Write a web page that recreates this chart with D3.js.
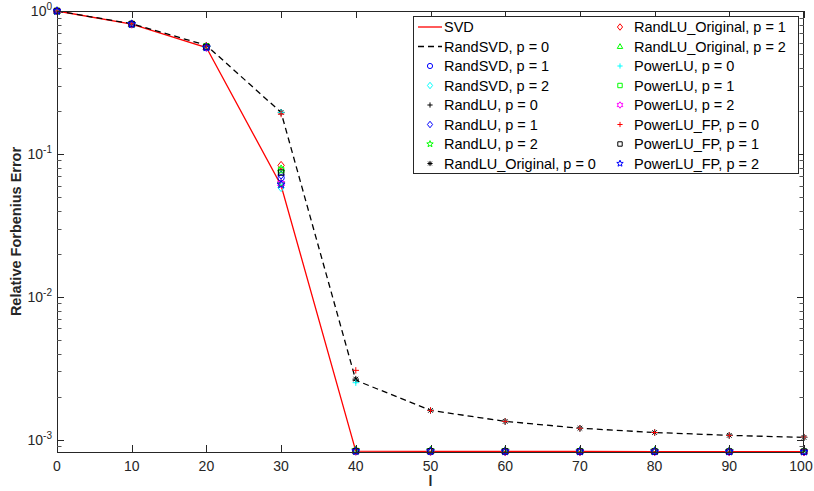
<!DOCTYPE html>
<html>
<head>
<meta charset="utf-8">
<script src="https://cdn.jsdelivr.net/npm/d3@7"></script>
<style>
  html, body { margin: 0; padding: 0; background: #fff; }
  svg { display: block; font-family: "Liberation Sans", Arial, Helvetica, sans-serif; }
</style>
</head>
<body>
<div id="chart"></div>
<script>
// Relative Frobenius error vs. rank l, log y axis (MATLAB-style figure)

var L = [0, 10, 20, 30, 40, 50, 60, 70, 80, 90, 100];

var SVD         = [1.0, 0.81, 0.555, 0.060, 8.3e-4, 8.27e-4, 8.26e-4, 8.25e-4, 8.24e-4, 8.23e-4, 8.22e-4];
var RANDSVD_0   = [1.0, 0.815, 0.575, 0.195, 2.6e-3, 1.6e-3, 1.34e-3, 1.2e-3, 1.12e-3, 1.07e-3, 1.035e-3];
var RANDSVD_1   = [1.0, 0.81, 0.56, 0.068, 8.3e-4, 8.28e-4, 8.26e-4, 8.25e-4, 8.24e-4, 8.23e-4, 8.22e-4];
var RANDSVD_2   = [1.0, 0.81, 0.555, 0.058, 8.3e-4, 8.27e-4, 8.26e-4, 8.25e-4, 8.24e-4, 8.23e-4, 8.22e-4];
var RANDLU_0    = [1.0, 0.815, 0.575, 0.195, 2.6e-3, 1.6e-3, 1.34e-3, 1.2e-3, 1.12e-3, 1.07e-3, 1.035e-3];
var RANDLU_1    = [1.0, 0.81, 0.56, 0.071, 8.3e-4, 8.28e-4, 8.26e-4, 8.25e-4, 8.24e-4, 8.23e-4, 8.22e-4];
var RANDLU_2    = [1.0, 0.81, 0.555, 0.062, 8.45e-4, 8.4e-4, 8.38e-4, 8.36e-4, 8.35e-4, 8.33e-4, 8.32e-4];
var RANDLUO_0   = [1.0, 0.815, 0.575, 0.195, 2.65e-3, 1.6e-3, 1.34e-3, 1.2e-3, 1.12e-3, 1.07e-3, 1.035e-3];
var RANDLUO_1   = [1.0, 0.81, 0.565, 0.083, 8.3e-4, 8.28e-4, 8.26e-4, 8.25e-4, 8.24e-4, 8.23e-4, 8.22e-4];
var RANDLUO_2   = [1.0, 0.81, 0.56, 0.079, 8.35e-4, 8.3e-4, 8.28e-4, 8.26e-4, 8.25e-4, 8.24e-4, 8.23e-4];
var POWERLU_0   = [1.0, 0.815, 0.575, 0.195, 2.5e-3, 1.6e-3, 1.34e-3, 1.2e-3, 1.12e-3, 1.07e-3, 1.035e-3];
var POWERLU_1   = [1.0, 0.81, 0.565, 0.077, 8.3e-4, 8.28e-4, 8.26e-4, 8.25e-4, 8.24e-4, 8.23e-4, 8.22e-4];
var POWERLU_2   = [1.0, 0.81, 0.555, 0.062, 8.3e-4, 8.27e-4, 8.26e-4, 8.25e-4, 8.24e-4, 8.23e-4, 8.22e-4];
var POWERLUFP_0 = [1.0, 0.815, 0.575, 0.19, 3.05e-3, 1.6e-3, 1.34e-3, 1.2e-3, 1.12e-3, 1.07e-3, 1.04e-3];
var POWERLUFP_1 = [1.0, 0.81, 0.56, 0.074, 8.3e-4, 8.28e-4, 8.26e-4, 8.25e-4, 8.24e-4, 8.23e-4, 8.22e-4];
var POWERLUFP_2 = [1.0, 0.81, 0.555, 0.061, 8.3e-4, 8.27e-4, 8.26e-4, 8.25e-4, 8.24e-4, 8.23e-4, 8.22e-4];

var X_TICKS = [0, 10, 20, 30, 40, 50, 60, 70, 80, 90, 100];
var Y_TICKS = [1, 0.1, 0.01, 0.001];
var Y_TICK_EXP = ["0", "-1", "-2", "-3"];

var SERIES = [
  { name: "SVD", values: SVD, color: "#ff0000", line: "solid" },
  { name: "RandSVD, p = 0", values: RANDSVD_0, color: "#000000", line: "dashed" },
  { name: "RandSVD, p = 1", values: RANDSVD_1, color: "#0000ff", marker: "circle" },
  { name: "RandSVD, p = 2", values: RANDSVD_2, color: "#00ffff", marker: "diamond" },
  { name: "RandLU, p = 0", values: RANDLU_0, color: "#000000", marker: "plus" },
  { name: "RandLU, p = 1", values: RANDLU_1, color: "#0000ff", marker: "diamond" },
  { name: "RandLU, p = 2", values: RANDLU_2, color: "#00ff00", marker: "pentagram" },
  { name: "RandLU_Original, p = 0", values: RANDLUO_0, color: "#000000", marker: "asterisk" },
  { name: "RandLU_Original, p = 1", values: RANDLUO_1, color: "#ff0000", marker: "diamond" },
  { name: "RandLU_Original, p = 2", values: RANDLUO_2, color: "#00ff00", marker: "triangle" },
  { name: "PowerLU, p = 0", values: POWERLU_0, color: "#00ffff", marker: "plus" },
  { name: "PowerLU, p = 1", values: POWERLU_1, color: "#00ff00", marker: "square" },
  { name: "PowerLU, p = 2", values: POWERLU_2, color: "#ff00ff", marker: "hexagram" },
  { name: "PowerLU_FP, p = 0", values: POWERLUFP_0, color: "#ff0000", marker: "plus" },
  { name: "PowerLU_FP, p = 1", values: POWERLUFP_1, color: "#000000", marker: "square" },
  { name: "PowerLU_FP, p = 2", values: POWERLUFP_2, color: "#0000ff", marker: "pentagram" }
];

var W = 814, H = 491;
var M = { left: 57, right: 10, top: 11, bottom: 39 };
var AXIS = "#262626";

var svg = d3.select("#chart").append("svg").attr("width", W).attr("height", H);

var x = d3.scaleLinear().domain([0, 100]).range([M.left, W - M.right]);
var y = d3.scaleLog().domain([8.18e-4, 1]).range([H - M.bottom, M.top]);

// star polygon outline
function starPath(n, ro, ri) {
  var pts = [];
  for (var i = 0; i < 2 * n; i++) {
    var a = -Math.PI / 2 + i * Math.PI / n;
    var r = i % 2 === 0 ? ro : ri;
    pts.push([r * Math.cos(a), r * Math.sin(a)]);
  }
  return "M" + pts.map(function (p) { return p[0].toFixed(2) + "," + p[1].toFixed(2); }).join("L") + "Z";
}

function markerPath(kind, s) {
  var r = s;
  switch (kind) {
    case "circle": return "M" + r + ",0A" + r + "," + r + " 0 1,1 " + (-r) + ",0A" + r + "," + r + " 0 1,1 " + r + ",0Z";
    case "diamond": return "M0," + (-r * 1.25) + "L" + r + ",0L0," + (r * 1.25) + "L" + (-r) + ",0Z";
    case "square": return "M" + (-r * 0.85) + "," + (-r * 0.85) + "H" + (r * 0.85) + "V" + (r * 0.85) + "H" + (-r * 0.85) + "Z";
    case "triangle": return "M0," + (-r * 1.1) + "L" + (r * 1.05) + "," + (r * 0.75) + "L" + (-r * 1.05) + "," + (r * 0.75) + "Z";
    case "plus": return "M" + (-r) + ",0H" + r + "M0," + (-r) + "V" + r;
    case "asterisk":
      var d = r * 0.72;
      return "M" + (-r) + ",0H" + r + "M0," + (-r) + "V" + r +
        "M" + (-d) + "," + (-d) + "L" + d + "," + d + "M" + (-d) + "," + d + "L" + d + "," + (-d);
    case "pentagram": return starPath(5, r * 1.3, r * 0.55);
    case "hexagram": return starPath(6, r * 1.25, r * 0.72);
  }
  return "";
}

var plot = svg.append("g");

var line = d3.line().x(function (d, i) { return x(L[i]); }).y(function (d) { return y(d); });

SERIES.forEach(function (s) {
  if (s.line) {
    plot.append("path")
      .attr("d", line(s.values))
      .attr("fill", "none")
      .attr("stroke", s.color)
      .attr("stroke-width", 1.3)
      .attr("stroke-dasharray", s.line === "dashed" ? "6,4" : null);
  }
});

SERIES.forEach(function (s) {
  if (!s.marker) return;
  plot.append("g").selectAll("path")
    .data(s.values)
    .enter().append("path")
    .attr("transform", function (d, i) { return "translate(" + x(L[i]) + "," + y(d) + ")"; })
    .attr("d", markerPath(s.marker, 3.2))
    .attr("fill", "none")
    .attr("stroke", s.color)
    .attr("stroke-width", 1);
});

// axes box + ticks
var x0 = M.left, x1 = W - M.right, yT = M.top, yB = H - M.bottom;
var axes = svg.append("g").attr("stroke", AXIS).attr("stroke-width", 1).attr("fill", "none");

axes.append("rect").attr("x", x0 + 0.5).attr("y", yT + 0.5)
  .attr("width", x1 - x0 - 1).attr("height", yB - yT);

X_TICKS.forEach(function (t) {
  var px = Math.round(x(t)) + 0.5;
  axes.append("line").attr("x1", px).attr("x2", px).attr("y1", yB).attr("y2", yB - 7);
  axes.append("line").attr("x1", px).attr("x2", px).attr("y1", yT).attr("y2", yT + 7);
});

var minor = [];
[1e-4, 1e-3, 1e-2, 1e-1].forEach(function (dec) {
  for (var k = 2; k <= 9; k++) minor.push(dec * k);
});
minor.filter(function (v) { return v > y.domain()[0] && v < 1; }).forEach(function (v) {
  var py = Math.round(y(v)) + 0.5;
  axes.append("line").attr("x1", x0).attr("x2", x0 + 4.5).attr("y1", py).attr("y2", py).attr("stroke", "#555");
  axes.append("line").attr("x1", x1).attr("x2", x1 - 4.5).attr("y1", py).attr("y2", py).attr("stroke", "#555");
});
Y_TICKS.forEach(function (v) {
  var py = Math.round(y(v)) + 0.5;
  axes.append("line").attr("x1", x0).attr("x2", x0 + 7).attr("y1", py).attr("y2", py);
  axes.append("line").attr("x1", x1).attr("x2", x1 - 7).attr("y1", py).attr("y2", py);
});

// tick labels
var lab = svg.append("g").attr("fill", AXIS);
X_TICKS.forEach(function (t) {
  lab.append("text").attr("x", Math.min(x(t), W - 13)).attr("y", yB + 19)
    .attr("text-anchor", "middle").attr("font-size", 14).text(t);
});
Y_TICKS.forEach(function (v, i) {
  var tx = lab.append("text").attr("x", 52).attr("y", y(v) + 5)
    .attr("text-anchor", "end").attr("font-size", 14);
  tx.append("tspan").text("10");
  tx.append("tspan").attr("dy", -6).attr("font-size", 10).text(Y_TICK_EXP[i]);
});

svg.append("text").attr("x", (x0 + x1) / 2).attr("y", H - 5)
  .attr("text-anchor", "middle").attr("font-size", 14).attr("font-weight", "bold")
  .attr("fill", AXIS).text("l");
svg.append("text")
  .attr("transform", "translate(21," + ((yT + yB) / 2) + ") rotate(-90)")
  .attr("text-anchor", "middle").attr("font-size", 14.5).attr("font-weight", "bold")
  .attr("fill", AXIS).text("Relative Forbenius Error");

// legend
var LG = { x: 413, y: 16, w: 385, h: 157, row: 19.5 };
var lg = svg.append("g");
lg.append("rect").attr("x", LG.x + 0.5).attr("y", LG.y + 0.5).attr("width", LG.w).attr("height", LG.h)
  .attr("fill", "#fff").attr("stroke", AXIS).attr("stroke-width", 1);

SERIES.forEach(function (s, i) {
  var col = i < 8 ? 0 : 1;
  var row = i % 8;
  var cy = LG.y + 11 + row * LG.row;
  var mx = col === 0 ? 430 : 620;
  var tx = col === 0 ? 444 : 634;
  var g = lg.append("g");
  if (s.line) {
    g.append("line").attr("x1", 418).attr("x2", 442).attr("y1", cy).attr("y2", cy)
      .attr("stroke", s.color).attr("stroke-width", 1.3)
      .attr("stroke-dasharray", s.line === "dashed" ? "6,4" : null);
  } else {
    g.append("path").attr("transform", "translate(" + mx + "," + cy + ")")
      .attr("d", markerPath(s.marker, 2.6))
      .attr("fill", "none").attr("stroke", s.color).attr("stroke-width", 1);
  }
  g.append("text").attr("x", tx).attr("y", cy + 5).attr("font-size", 14.5)
    .attr("fill", "#000").text(s.name);
});
</script>
</body>
</html>
